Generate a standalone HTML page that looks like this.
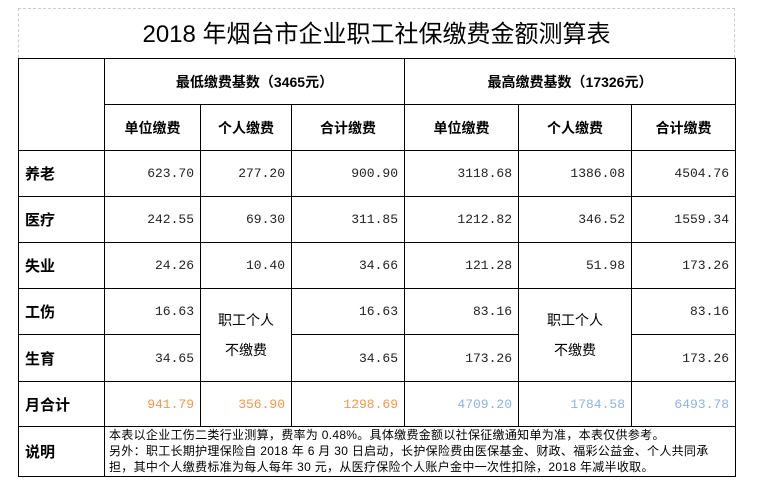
<!DOCTYPE html>
<html><head><meta charset="utf-8"><style>
body{margin:0;width:759px;height:481px;background:#fff;position:relative;overflow:hidden;font-family:"Liberation Sans","Noto Sans CJK SC",sans-serif;}
.frame{position:absolute;left:18px;top:8px;width:717px;height:50px;border:1px dashed #ccc;border-bottom:none;box-sizing:border-box;}
.title{position:absolute;left:18px;top:14px;width:717px;text-align:center;font-size:24px;color:#000;}
table{position:absolute;left:18px;top:58px;border-collapse:collapse;table-layout:fixed;}
td{border:1px solid #000;padding:0;font-size:13px;}
.h{font-weight:bold;text-align:center;font-size:14px;font-family:"Liberation Sans","Noto Sans CJK SC",sans-serif;}
.lab{font-weight:bold;font-size:15px;padding-left:6px;color:#000;}
.n{text-align:right;padding-right:6px;font-family:"Liberation Mono","Noto Sans CJK SC",monospace;color:#222;}
.o{color:#f79646}.b{color:#8db4e2}
.m{text-align:center;font-size:14px;line-height:30px;}
.note{font-size:12px;line-height:16px;padding-left:4px;vertical-align:top;letter-spacing:0.3px;}
</style></head><body>
<div class="frame"></div>
<div class="title">2018 年烟台市企业职工社保缴费金额测算表</div>
<table>
<colgroup><col style="width:86px"><col style="width:96px"><col style="width:91px"><col style="width:113px"><col style="width:114px"><col style="width:113px"><col style="width:104px"></colgroup>
<tr style="height:46px"><td rowspan="2"></td><td colspan="3" class="h">最低缴费基数（3465元）</td><td colspan="3" class="h">最高缴费基数（17326元）</td></tr>
<tr style="height:46px"><td class="h">单位缴费</td><td class="h">个人缴费</td><td class="h">合计缴费</td><td class="h">单位缴费</td><td class="h">个人缴费</td><td class="h">合计缴费</td></tr>
<tr style="height:46px"><td class="lab">养老</td><td class="n">623.70</td><td class="n">277.20</td><td class="n">900.90</td><td class="n">3118.68</td><td class="n">1386.08</td><td class="n">4504.76</td></tr>
<tr style="height:46px"><td class="lab">医疗</td><td class="n">242.55</td><td class="n">69.30</td><td class="n">311.85</td><td class="n">1212.82</td><td class="n">346.52</td><td class="n">1559.34</td></tr>
<tr style="height:46px"><td class="lab">失业</td><td class="n">24.26</td><td class="n">10.40</td><td class="n">34.66</td><td class="n">121.28</td><td class="n">51.98</td><td class="n">173.26</td></tr>
<tr style="height:46px"><td class="lab">工伤</td><td class="n">16.63</td><td rowspan="2" class="m">职工个人<br>不缴费</td><td class="n">16.63</td><td class="n">83.16</td><td rowspan="2" class="m">职工个人<br>不缴费</td><td class="n">83.16</td></tr>
<tr style="height:47px"><td class="lab">生育</td><td class="n">34.65</td><td class="n">34.65</td><td class="n">173.26</td><td class="n">173.26</td></tr>
<tr style="height:45px"><td class="lab">月合计</td><td class="n o">941.79</td><td class="n o">356.90</td><td class="n o">1298.69</td><td class="n b">4709.20</td><td class="n b">1784.58</td><td class="n b">6493.78</td></tr>
<tr style="height:50px"><td class="lab">说明</td><td colspan="6" class="note">本表以企业工伤二类行业测算，费率为 0.48%。具体缴费金额以社保征缴通知单为准，本表仅供参考。<br>另外：职工长期护理保险自 2018 年 6 月 30 日启动，长护保险费由医保基金、财政、福彩公益金、个人共同承<br>担，其中个人缴费标准为每人每年 30 元，从医疗保险个人账户金中一次性扣除，2018 年减半收取。</td></tr>
</table>
</body></html>
